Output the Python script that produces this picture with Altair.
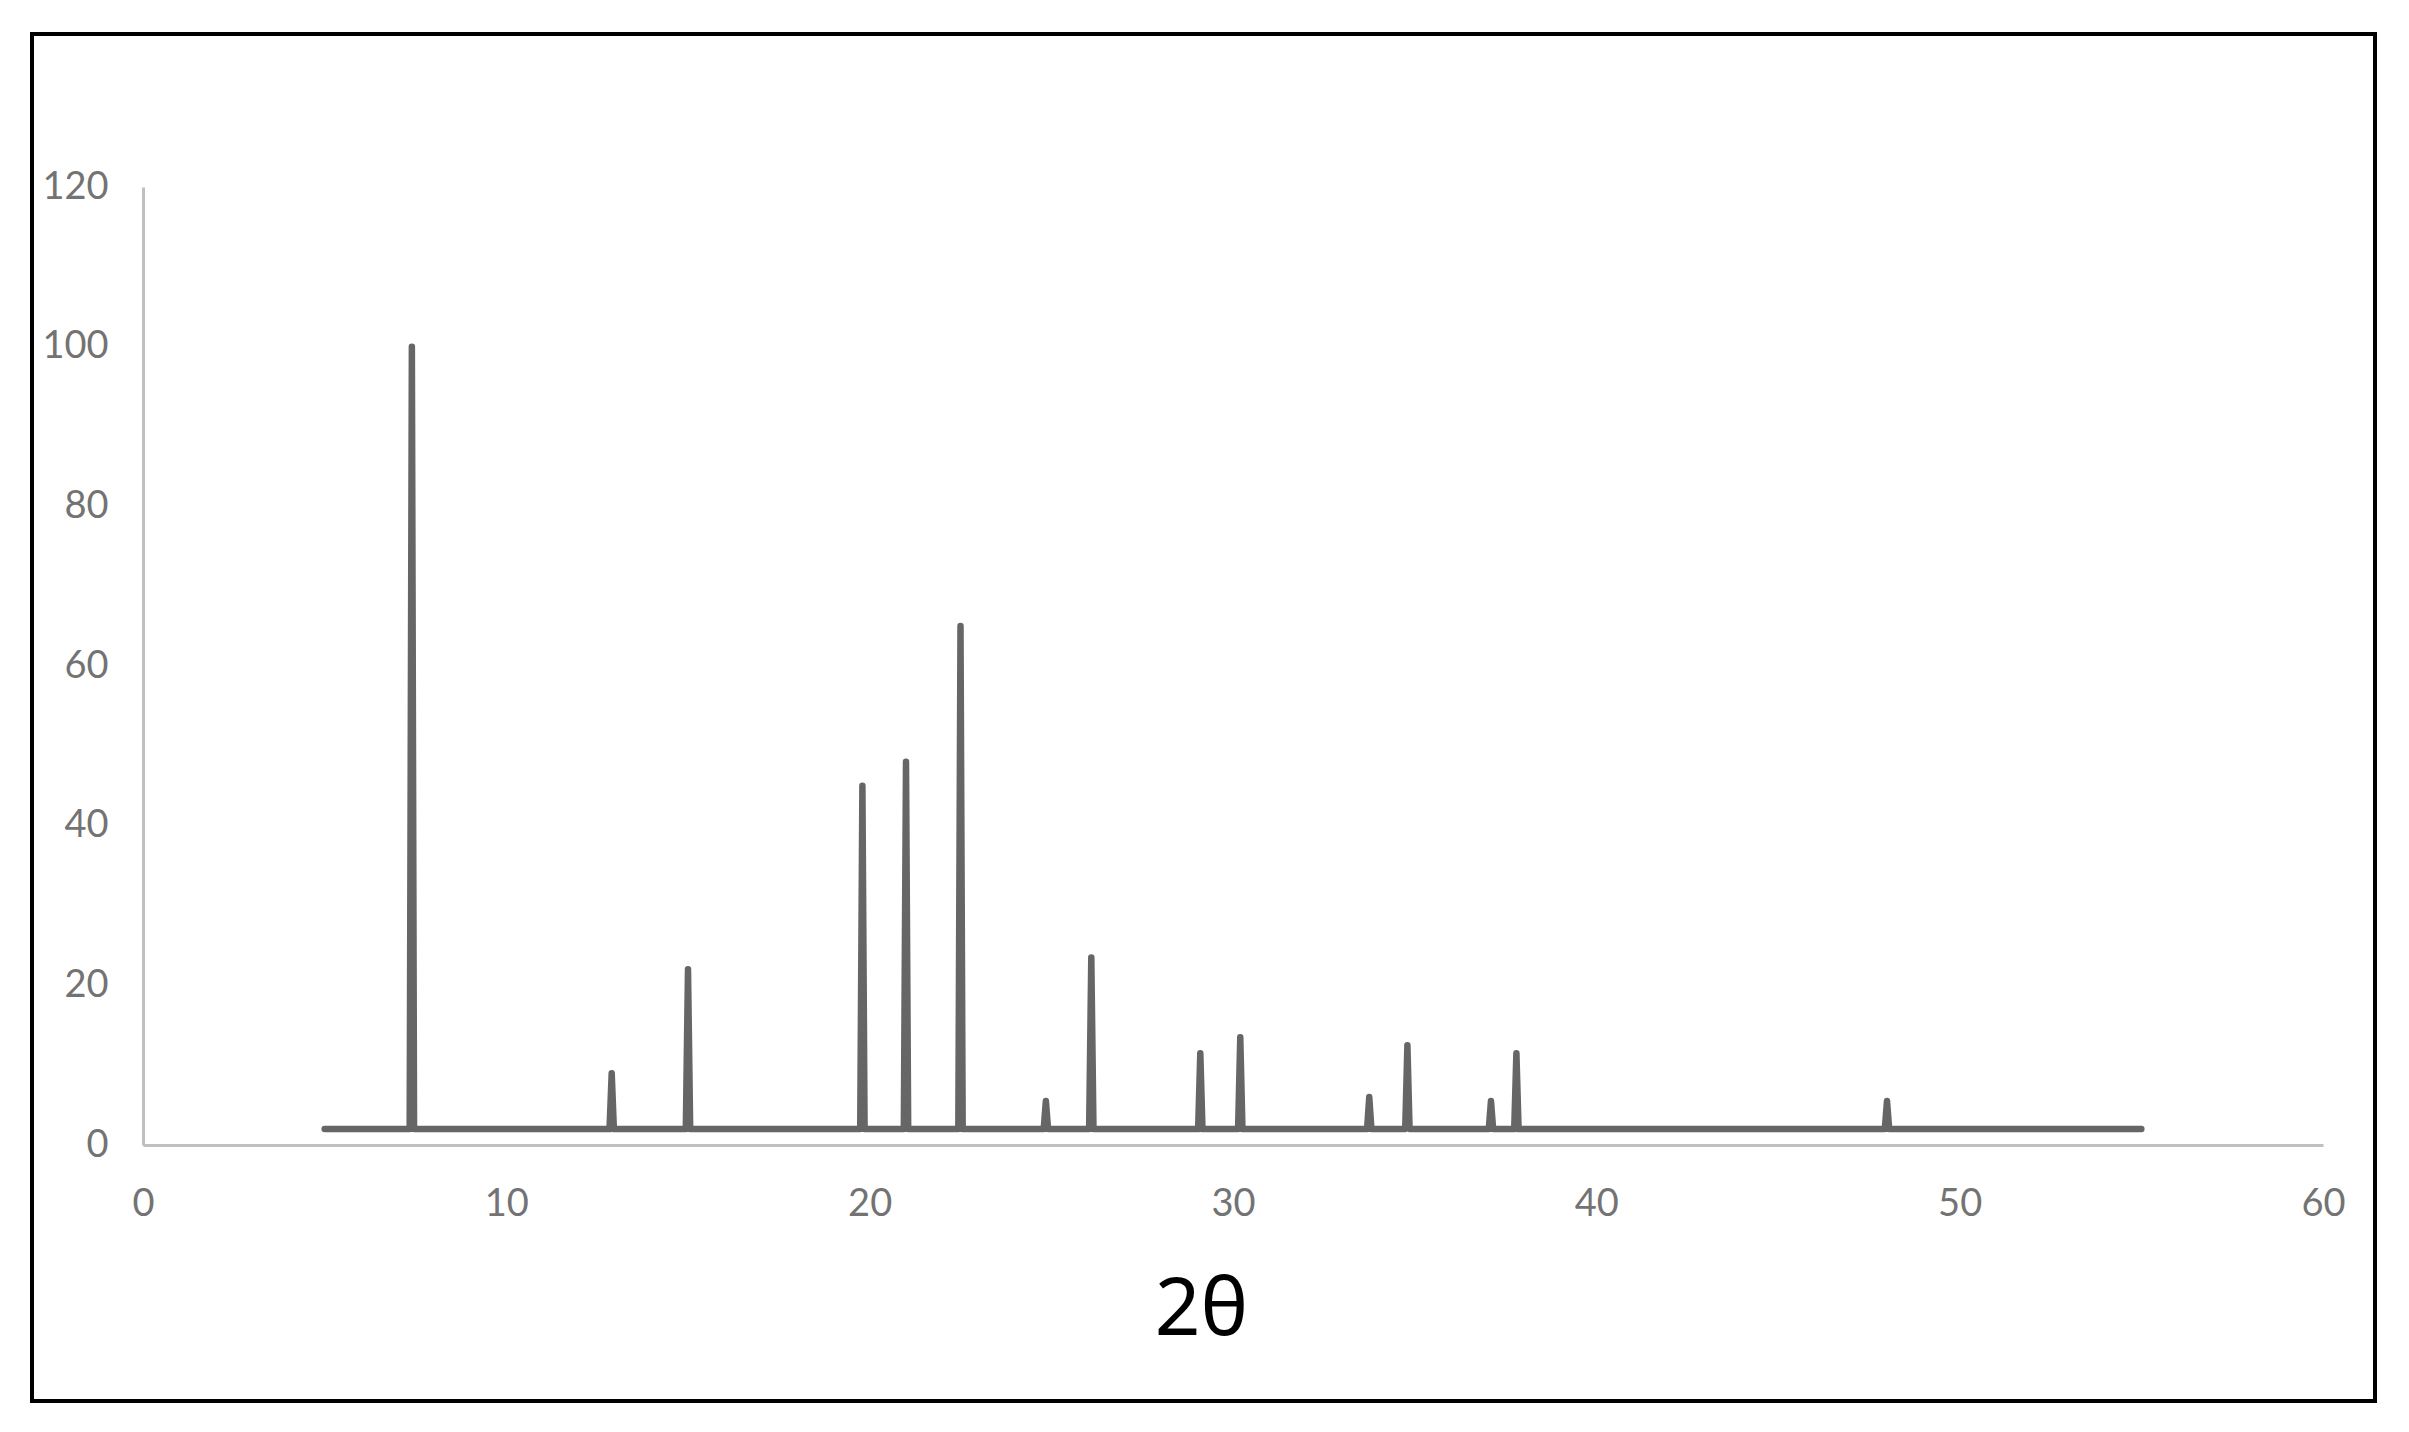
import altair as alt
import pandas as pd

# Peak positions (2θ) and relative intensities
peak_2theta = [7.4, 12.9, 15.0, 19.8, 21.0, 22.5, 24.85, 26.1, 29.1, 30.2, 33.75, 34.8, 37.1, 37.8, 48.0]
peak_intensity = [100, 9, 22, 45, 48, 65, 5.5, 23.5, 11.5, 13.5, 6, 12.5, 5.5, 11.5, 5.5]
baseline = 2
scan_start = 5
scan_end = 55
half_width = 0.06
x_ticks = [0, 10, 20, 30, 40, 50, 60]
y_ticks = [0, 20, 40, 60, 80, 100, 120]

rows = [(scan_start, baseline)]
for x, h in zip(peak_2theta, peak_intensity):
    rows += [(x - half_width, baseline), (x, h), (x + half_width, baseline)]
rows.append((scan_end, baseline))
df = pd.DataFrame(rows, columns=["two_theta", "intensity"])
df["i"] = range(len(df))

line = alt.Chart(df).mark_line(
    color="#666666", strokeWidth=6.5, strokeCap="round", strokeJoin="round"
).encode(
    x=alt.X("two_theta:Q",
            scale=alt.Scale(domain=[0, 60], nice=False, zero=False),
            axis=alt.Axis(values=x_ticks, title="2θ", labelPadding=40, labelFlush=False,
                          titleFontSize=80, titleColor="#000000", titleFont="Noto Sans",
                          titleFontWeight="normal", titleX=1058, titleY=165,
                          titleAlign="center", titleBaseline="middle")),
    y=alt.Y("intensity:Q",
            scale=alt.Scale(domain=[0, 120], nice=False),
            axis=alt.Axis(values=y_ticks, title=None, labelPadding=35, labelFlush=False)),
    order="i:Q",
)

border = alt.Chart(pd.DataFrame({"a": [0]})).mark_rect(
    fill=None, stroke="#000000", strokeWidth=4
).encode(
    x=alt.value(-111), x2=alt.value(2232), y=alt.value(-153), y2=alt.value(1214)
)

chart = alt.layer(border, line).properties(
    width=2180, height=958,
    autosize=alt.AutoSizeParams(type="none"),
    padding={"left": 135, "top": 179, "right": 70, "bottom": 270},
    background="white",
).configure_view(stroke=None).configure_axis(
    grid=False, ticks=False, tickSize=0,
    domainColor="#c0c0c0", domainWidth=3,
    labelFont="Lato", labelFontSize=38, labelColor="#737373",
)

chart.save("out.html", embed_options={"renderer": "svg", "actions": False})
